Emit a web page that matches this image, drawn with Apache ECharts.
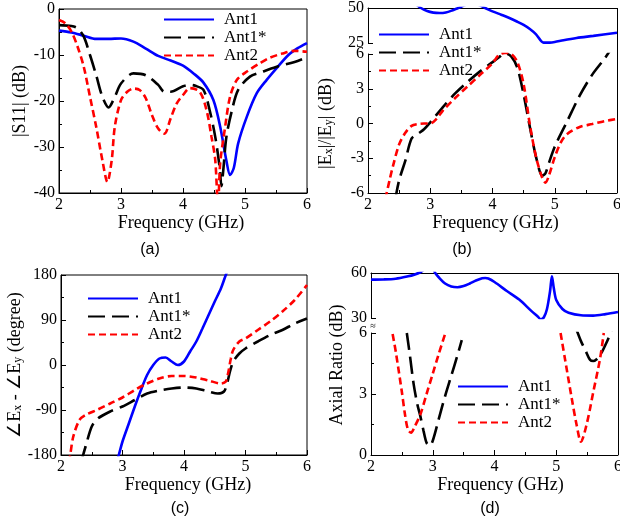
<!DOCTYPE html>
<html>
<head>
<meta charset="utf-8">
<script src="https://cdn.jsdelivr.net/npm/echarts@6/dist/echarts.min.js"></script>
<style>
html, body { margin: 0; padding: 0; background: #fff; }
#main { width: 620px; height: 528px; }
</style>
</head>
<body>
<div id="main"></div>
<script>
// (a) |S11|
const freqS11Ant1 = [2, 2.2, 2.4, 2.6, 2.8, 3.0, 3.2, 3.4, 3.6, 3.8, 4.0, 4.17, 4.33, 4.49, 4.6, 4.7, 4.76, 4.82, 4.89, 5.03, 5.19, 5.35, 5.5, 5.7, 5.85, 6.0];
const s11Ant1 = [-4.7, -5.1, -5.8, -6.5, -6.5, -6.4, -7.1, -8.6, -10.2, -11.2, -12.3, -14, -16, -19.8, -25.6, -33, -36.1, -34.5, -29.2, -23.4, -18.3, -15.4, -13, -10, -8.5, -7.4];
const freqS11Ant1s = [2, 2.2, 2.3, 2.4, 2.5, 2.6, 2.7, 2.8, 2.9, 3.0, 3.2, 3.4, 3.6, 3.7, 3.8, 4.0, 4.11, 4.2, 4.33, 4.43, 4.52, 4.59, 4.62, 4.65, 4.7, 4.79, 4.89, 5.08, 5.29, 5.5, 5.8, 6.0];
const s11Ant1s = [-3.5, -3.7, -4.2, -6, -10, -14.4, -19.1, -21.4, -19.1, -16.2, -14, -14.4, -16.5, -18, -18, -16.8, -16.5, -16.7, -17.6, -22, -27.8, -34.3, -38.5, -35, -27.8, -22, -17.6, -14.7, -13.6, -12.6, -11.5, -10.5];
const freqS11Ant2 = [2, 2.1, 2.2, 2.3, 2.4, 2.5, 2.6, 2.7, 2.78, 2.85, 2.9, 3.0, 3.1, 3.2, 3.3, 3.4, 3.5, 3.6, 3.7, 3.8, 3.9, 4.0, 4.11, 4.27, 4.38, 4.46, 4.52, 4.565, 4.6, 4.68, 4.76, 4.87, 5.03, 5.24, 5.4, 5.6, 5.8, 6.0];
const s11Ant2 = [-2.4, -3.1, -4.9, -8.2, -12.6, -19.1, -25.6, -32.9, -37.6, -32.9, -25.6, -19.8, -18, -17.3, -17.6, -19.4, -23.1, -26, -27.1, -23.8, -20.5, -18.7, -17.2, -18, -22, -27.8, -32.8, -43, -33.5, -25.6, -19, -15.4, -13.6, -11.8, -10.6, -9.7, -9.1, -9.3];

// (b) |Ex|/|Ey|
const freqRatioAnt1 = [2.7, 2.85, 2.95, 3.05, 3.15, 3.25, 3.35, 3.45, 3.6, 3.75, 3.88, 4.0, 4.14, 4.28, 4.4, 4.5, 4.6, 4.7, 4.82, 4.92, 5.0, 5.14, 5.35, 5.62, 6.0];
const ratioAnt1 = [55, 50, 47.8, 46.7, 46.4, 46.8, 48.2, 50, 52.5, 52.5, 50, 47.6, 45.2, 42.7, 40.2, 37.9, 35, 31.2, 25.3, 25.3, 25.7, 27, 28.6, 30.1, 32.3];
const freqRatioAnt1s = [2.44, 2.5, 2.6, 2.7, 2.8, 2.9, 3.0, 3.2, 3.4, 3.6, 3.8, 4.0, 4.1, 4.2, 4.3, 4.4, 4.5, 4.6, 4.7, 4.8, 4.85, 4.9, 5.0, 5.2, 5.4, 5.6, 5.8, 5.9];
const ratioAnt1s = [-6.5, -4.9, -3.2, -1.3, -0.9, -0.5, 0.1, 1.4, 2.6, 3.6, 4.5, 5.3, 5.7, 6.05, 5.8, 4.8, 2.5, -0.3, -2.9, -4.5, -4.3, -3.5, -2, 0.2, 2.4, 4.2, 5.6, 6.4];
const freqRatioAnt2 = [2.28, 2.35, 2.4, 2.5, 2.6, 2.7, 2.8, 2.9, 3.0, 3.1, 3.2, 3.4, 3.6, 3.8, 4.0, 4.1, 4.2, 4.3, 4.4, 4.5, 4.6, 4.7, 4.8, 4.85, 4.9, 5.0, 5.1, 5.2, 5.4, 5.6, 5.8, 6.0];
const ratioAnt2 = [-6.5, -4.8, -3.7, -1.8, -0.8, -0.2, -0.05, 0, 0, 0.4, 1.1, 2.2, 3.2, 4.2, 5.2, 5.9, 6.1, 6.0, 5.3, 3.4, -0.1, -2.9, -4.7, -5.1, -4.6, -2.9, -1.6, -0.9, -0.3, -0.05, 0.2, 0.4];

// (c) phase difference
const freqPhaseAnt1 = [2.9, 2.94, 3.0, 3.1, 3.2, 3.3, 3.4, 3.5, 3.6, 3.7, 3.8, 3.9, 4.0, 4.1, 4.2, 4.3, 4.4, 4.5, 4.6, 4.68, 4.75];
const phaseAnt1 = [-195, -180, -153, -118, -83, -50, -20, 0, 13, 15, 7, 0, 7, 27, 47, 73, 100, 127, 153, 180, 200];
const freqPhaseAnt1s = [2.33, 2.36, 2.4, 2.5, 2.6, 2.8, 3.0, 3.2, 3.4, 3.6, 3.8, 4.0, 4.2, 4.4, 4.55, 4.65, 4.7, 4.75, 4.8, 4.9, 5.0, 5.2, 5.4, 5.6, 5.8, 6.0];
const phaseAnt1s = [-195, -180, -163, -123, -107, -93, -83, -70, -57, -51, -47, -45, -47, -53, -57, -53, -37, -12, 7, 23, 33, 47, 60, 70, 83, 93];
const freqPhaseAnt2 = [2.13, 2.15, 2.2, 2.3, 2.4, 2.6, 2.8, 3.0, 3.2, 3.4, 3.6, 3.8, 4.0, 4.2, 4.4, 4.6, 4.68, 4.72, 4.76, 4.8, 4.9, 5.0, 5.2, 5.4, 5.6, 5.8, 6.0];
const phaseAnt2 = [-195, -180, -143, -110, -100, -89, -77, -65, -50, -37, -27, -22, -22, -25, -31, -37, -33, -15, 12, 30, 47, 53, 70, 87, 107, 130, 160];

// (d) axial ratio
const freqArAnt1 = [2.0, 2.2, 2.4, 2.6, 2.7, 2.8, 2.9, 3.0, 3.04, 3.1, 3.2, 3.3, 3.4, 3.5, 3.6, 3.7, 3.8, 3.85, 3.9, 4.0, 4.2, 4.4, 4.6, 4.7, 4.75, 4.8, 4.85, 4.9, 4.93, 4.96, 5.0, 5.1, 5.2, 5.4, 5.6, 5.8, 6.0];
const arAnt1 = [55.6, 55.7, 56.2, 57.8, 58.9, 60.5, 63, 63, 60, 57, 53, 51, 50.5, 51.3, 53, 55, 56.5, 56.7, 56.3, 54, 48, 42.3, 34.6, 31, 29.2, 30.5, 36, 48, 57.8, 50, 42, 36, 33.5, 31.8, 31.6, 32.6, 34];
const freqArAnt1s = [2.58, 2.63, 2.69, 2.75, 2.8, 2.85, 2.9, 2.95, 3.0, 3.1, 3.2, 3.3, 3.4, 3.47, 4.2, 5.33, 5.4, 5.47, 5.55, 5.6, 5.65, 5.71, 5.82, 5.9];
const arAnt1s = [6.0, 4.9, 3.5, 2.5, 1.9, 1.2, 0.6, 0.45, 0.7, 1.8, 2.9, 3.9, 4.9, 5.65, null, 6.15, 5.6, 5.16, 4.67, 4.62, 4.7, 4.9, 5.57, 6.15];
const freqArAnt2 = [2.35, 2.4, 2.5, 2.55, 2.6, 2.65, 2.7, 2.8, 2.9, 3.0, 3.1, 3.2, 4.2, 5.07, 5.14, 5.25, 5.33, 5.4, 5.49, 5.6, 5.71, 5.77];
const arAnt2 = [5.95, 5.1, 3.1, 2.0, 1.23, 1.1, 1.35, 2.0, 3.0, 4.0, 5.0, 5.95, null, 6.0, 4.75, 2.8, 1.48, 0.65, 1.48, 3.1, 4.75, 6.0];

const serif = 'Liberation Serif';
const pair = (xs, ys) => xs.map((x, i) => [x, ys[i] == null ? '-' : ys[i]]);

const styles = [
  { color: '#0000ff', type: 'solid' },
  { color: '#000000', type: [17, 7] },
  { color: '#ff0000', type: [7, 4] }
];

function line (name, idx, xs, ys, k) {
  return {
    name: name, type: 'line', xAxisIndex: idx, yAxisIndex: idx,
    data: pair(xs, ys), smooth: 0.3, symbol: 'none', clip: true,
    lineStyle: { color: styles[k].color, width: 2.6, type: styles[k].type },
    itemStyle: { color: styles[k].color }
  };
}

function xAx (gridIndex, full, shift) {
  return {
    type: 'value', gridIndex: gridIndex, min: 2, max: 6, interval: 1,
    position: full ? 'bottom' : 'top',
    axisLine: { show: true, onZero: false, lineStyle: { color: '#000', width: 1 } },
    axisTick: { show: full, inside: true, length: 5, lineStyle: { color: '#000' } },
    minorTick: { show: full, splitNumber: 2, length: 3, lineStyle: { color: '#000' } },
    splitLine: { show: false },
    axisLabel: { show: full, color: '#000', fontFamily: serif, fontSize: 16, margin: 4 },
    name: full ? 'Frequency (GHz)' : '', nameLocation: 'middle', nameGap: 17,
    nameTextStyle: {
      color: '#000', fontFamily: serif, fontSize: 18,
      padding: shift > 0 ? [0, 0, 0, shift * 2] : [0, -shift * 2, 0, 0]
    }
  };
}

const rich = { sub: { fontFamily: serif, fontSize: 12, color: '#000', verticalAlign: 'bottom', lineHeight: 6 } };

function yAx (gridIndex, min, max, interval, name, gap, minor) {
  return {
    type: 'value', gridIndex: gridIndex, min: min, max: max, interval: interval,
    axisLine: { show: true, onZero: false, lineStyle: { color: '#000', width: 1 } },
    axisTick: { show: true, inside: true, length: 5, lineStyle: { color: '#000' } },
    minorTick: { show: minor, splitNumber: 2, length: 3, lineStyle: { color: '#000' } },
    splitLine: { show: false },
    axisLabel: { color: '#000', fontFamily: serif, fontSize: 16, margin: 4 },
    name: name, nameLocation: 'middle', nameGap: gap,
    nameTextStyle: { color: '#000', fontFamily: serif, fontSize: 18, rich: rich }
  };
}

function leg (left, top) {
  return {
    data: ['Ant1', 'Ant1*', 'Ant2'], orient: 'vertical', left: left, top: top,
    itemWidth: 50, itemHeight: 14, itemGap: 1, padding: 0, selectedMode: false,
    itemStyle: { opacity: 0 },
    textStyle: { color: '#000', fontFamily: serif, fontSize: 17, lineHeight: 15, padding: [0, 0, 0, 5] }
  };
}

const frame = { show: true, borderColor: '#000', borderWidth: 1, backgroundColor: 'transparent' };

const option = {
  animation: false,
  backgroundColor: '#fff',
  grid: [
    Object.assign({ left: 59, top: 9, width: 248, height: 184, outerBoundsMode: 'none' }, frame),
    { left: 368, top: 8, width: 249, height: 35, outerBoundsMode: 'none' },
    { left: 368, top: 54, width: 249, height: 139, outerBoundsMode: 'none' },
    Object.assign({ left: 61, top: 275, width: 246, height: 180, outerBoundsMode: 'none' }, frame),
    { left: 371, top: 273, width: 247, height: 45, outerBoundsMode: 'none' },
    { left: 371, top: 333, width: 247, height: 122, outerBoundsMode: 'none' }
  ],
  xAxis: [xAx(0, true, -2), xAx(1, false, 0), xAx(2, true, 3), xAx(3, true, 4), xAx(4, false, 0), xAx(5, true, 6)],
  yAxis: [
    yAx(0, -40, 0, 10, '|S11| (dB)', 30, true),
    yAx(1, 25, 50, 25, '', 0, false),
    yAx(2, -6, 6, 3, '|E{sub|x}|/|E{sub|y}| (dB)', 33, true),
    yAx(3, -180, 180, 90, '∠E{sub|x} - ∠E{sub|y} (degree)', 22, true),
    yAx(4, 30, 60, 30, '', 0, false),
    yAx(5, 0, 6, 3, '', 0, true)
  ],
  legend: [leg(163, 11), leg(378, 26), leg(87, 290), leg(457, 378)],
  graphic: [
    { type: 'line', shape: { x1: 617.5, y1: 8, x2: 617.5, y2: 193 }, style: { stroke: '#000', lineWidth: 1 } },
    { type: 'line', shape: { x1: 618.5, y1: 273, x2: 618.5, y2: 455 }, style: { stroke: '#000', lineWidth: 1 } },
    { type: 'text', x: 337, y: 365, rotation: Math.PI / 2, style: { text: 'Axial Ratio (dB)', font: '18px "Liberation Serif"', fill: '#000', align: 'center', verticalAlign: 'middle' } },
    { type: 'text', x: 373, y: 326, style: { text: '≈', font: '10px "Liberation Serif"', fill: '#000', align: 'center', verticalAlign: 'middle' } },
    { type: 'text', x: 150, y: 250, style: { text: '(a)', font: '16px "Liberation Sans"', fill: '#000', align: 'center', verticalAlign: 'middle' } },
    { type: 'text', x: 462, y: 250, style: { text: '(b)', font: '16px "Liberation Sans"', fill: '#000', align: 'center', verticalAlign: 'middle' } },
    { type: 'text', x: 180, y: 509, style: { text: '(c)', font: '16px "Liberation Sans"', fill: '#000', align: 'center', verticalAlign: 'middle' } },
    { type: 'text', x: 490, y: 509, style: { text: '(d)', font: '16px "Liberation Sans"', fill: '#000', align: 'center', verticalAlign: 'middle' } }
  ],
  series: [
    line('Ant1', 0, freqS11Ant1, s11Ant1, 0),
    line('Ant1*', 0, freqS11Ant1s, s11Ant1s, 1),
    line('Ant2', 0, freqS11Ant2, s11Ant2, 2),
    line('Ant1', 1, freqRatioAnt1, ratioAnt1, 0),
    line('Ant1*', 2, freqRatioAnt1s, ratioAnt1s, 1),
    line('Ant2', 2, freqRatioAnt2, ratioAnt2, 2),
    line('Ant1', 3, freqPhaseAnt1, phaseAnt1, 0),
    line('Ant1*', 3, freqPhaseAnt1s, phaseAnt1s, 1),
    line('Ant2', 3, freqPhaseAnt2, phaseAnt2, 2),
    line('Ant1', 4, freqArAnt1, arAnt1, 0),
    line('Ant1*', 5, freqArAnt1s, arAnt1s, 1),
    line('Ant2', 5, freqArAnt2, arAnt2, 2)
  ]
};

const chart = echarts.init(document.getElementById('main'));
chart.setOption(option);
</script>
</body>
</html>
